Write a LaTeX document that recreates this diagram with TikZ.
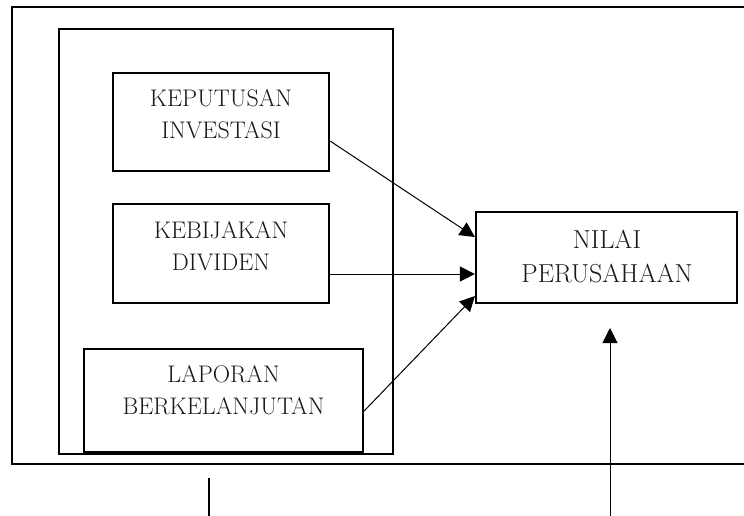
\documentclass[tikz,border=0pt]{standalone}
\usepackage{fontspec}
\usetikzlibrary{arrows.meta}
\tikzset{
  frame/.style={draw=black,line width=2pt},
  boxnode/.style={draw=black,line width=2.2pt,inner sep=0pt,fill=none},
  txt/.style={align=center,inner sep=0pt,font=\fontsize{24}{32}\selectfont,text=black!90},
  bigtxt/.style={align=center,inner sep=0pt,font=\fontsize{26}{34}\selectfont,text=black!90},
  conn/.style={draw=black,line width=1pt,-{Triangle[length=15pt,width=15pt]}},
  tick/.style={draw=black,line width=1.1pt}
}
\begin{document}
\begin{tikzpicture}[x=1pt,y=-1pt]
\useasboundingbox (0,0) rectangle (744,515);
\clip (0,0) rectangle (744,515);
% outer frame (extends past the right edge)
\draw[frame] (12,7) rectangle (770,464);
% inner container
\draw[frame] (59,29) rectangle (393,454);
% boxes
\node[boxnode,minimum width=216pt,minimum height=98pt] (k) at (221,122) {};
\node[txt] (kt) at (221,114.5) {KEPUTUSAN\\INVESTASI};
\node[boxnode,minimum width=216pt,minimum height=99pt] (d) at (221,253.5) {};
\node[txt] (dt) at (221,246.5) {KEBIJAKAN\\DIVIDEN};
\node[boxnode,minimum width=279pt,minimum height=103pt] (l) at (223.5,400.5) {};
\node[txt] (lt) at (223.5,390.5) {LAPORAN\\BERKELANJUTAN};
\node[boxnode,minimum width=261pt,minimum height=91pt] (n) at (606.5,257.5) {};
\node[bigtxt] (nt) at (607,256.5) {NILAI\\PERUSAHAAN};
% connectors
\draw[conn] ([yshift=-19pt]k.east) -- ([yshift=20.5pt]n.west);
\draw[conn] ([yshift=-20.5pt]d.east) -- ([yshift=-16.5pt]n.west);
\draw[conn] ([yshift=-10.5pt]l.east) -- ([yshift=-38.5pt]n.west);
\coordinate (vb) at (610,520);
\coordinate (vt) at (610,328);
\draw[conn] (vb) -- (vt);
\coordinate (tb) at (209,520);
\coordinate (tt) at (209,478);
\draw[tick] (tt) -- (tb);
\end{tikzpicture}
\end{document}
